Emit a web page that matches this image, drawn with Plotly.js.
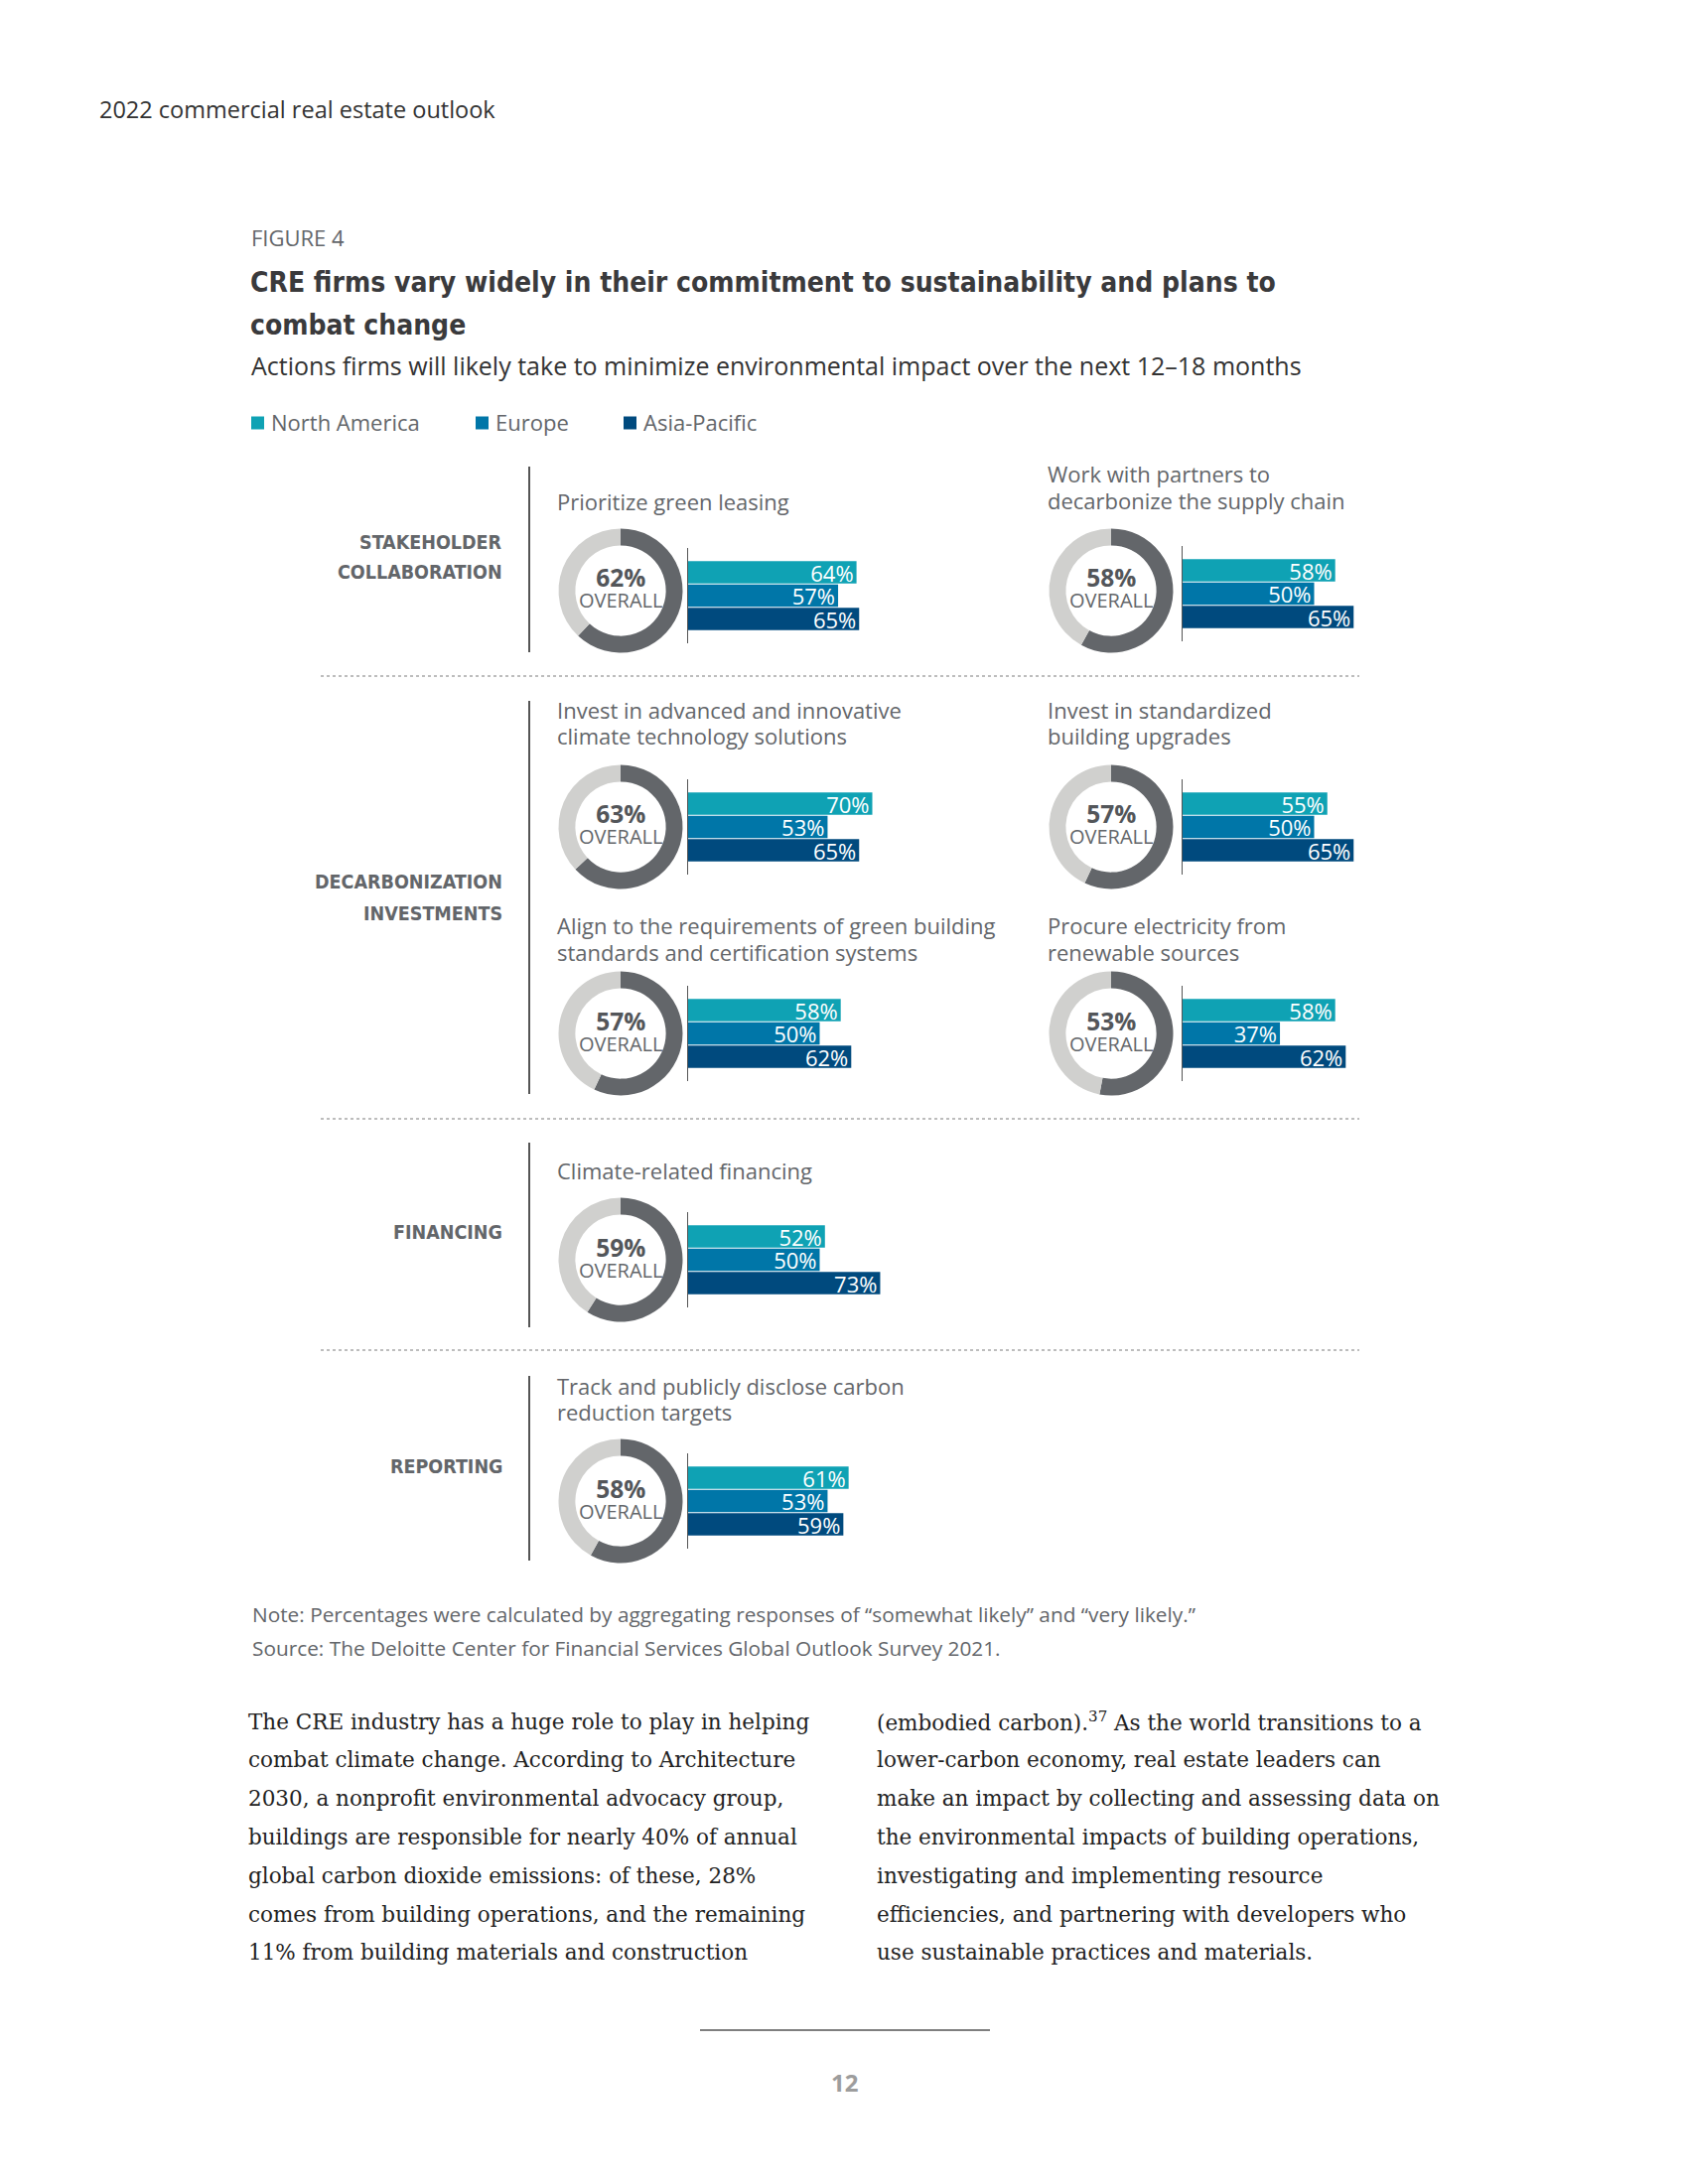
<!DOCTYPE html>
<html>
<head>
<meta charset="utf-8">
<script src="https://cdn.plot.ly/plotly-3.0.1.min.js"></script>
<style>html,body{margin:0;padding:0;background:#fff}</style>
</head>
<body>
<div id="chart" style="width:1700px;height:2200px"></div>
<script>
// ---------------- DATA ----------------
const regions = ['North America', 'Europe', 'Asia-Pacific'];
const actions = [
  'Prioritize green leasing',
  'Work with partners to<br>decarbonize the supply chain',
  'Invest in advanced and innovative<br>climate technology solutions',
  'Invest in standardized<br>building upgrades',
  'Align to the requirements of green building<br>standards and certification systems',
  'Procure electricity from<br>renewable sources',
  'Climate-related financing',
  'Track and publicly disclose carbon<br>reduction targets'
];
const overall      = [62, 58, 63, 57, 57, 53, 59, 58];
const northAmerica = [64, 58, 70, 55, 58, 58, 52, 61];
const europe       = [57, 50, 53, 50, 50, 37, 50, 53];
const asiaPacific  = [65, 65, 65, 65, 62, 62, 73, 59];
const sections = ['STAKEHOLDER<br>COLLABORATION', 'DECARBONIZATION<br>INVESTMENTS', 'FINANCING', 'REPORTING'];

const headerText = '2022 commercial real estate outlook';
const figureLabel = 'FIGURE 4';
const titleLines = ['CRE firms vary widely in their commitment to sustainability and plans to', 'combat change'];
const subtitle = 'Actions firms will likely take to minimize environmental impact over the next 12–18 months';
const noteText = 'Note: Percentages were calculated by aggregating responses of “somewhat likely” and “very likely.”';
const sourceText = 'Source: The Deloitte Center for Financial Services Global Outlook Survey 2021.';
const bodyLeft = [
  'The CRE industry has a huge role to play in helping',
  'combat climate change. According to Architecture',
  '2030, a nonprofit environmental advocacy group,',
  'buildings are responsible for nearly 40% of annual',
  'global carbon dioxide emissions: of these, 28%',
  'comes from building operations, and the remaining',
  '11% from building materials and construction'
];
const bodyRight = [
  '(embodied carbon).<sup>37</sup> As the world transitions to a',
  'lower-carbon economy, real estate leaders can',
  'make an impact by collecting and assessing data on',
  'the environmental impacts of building operations,',
  'investigating and implementing resource',
  'efficiencies, and partnering with developers who',
  'use sustainable practices and materials.'
];
const pageNumber = '12';

// ---------------- LAYOUT / STYLE ----------------
const W = 1700, H = 2200;
const px = x => x / W;
const py = y => 1 - y / H;
const C = { na: '#0fa2b4', eu: '#0076a8', ap: '#004a7e', dark: '#63666a', light: '#d0d0ce', text: '#63666a', ink: '#333333' };
const OS = 'Open Sans';
const NARROW = 'Liberation Sans Narrow, DejaVu Sans Condensed, Open Sans';

// panel placement: donut centre, column, bar offset, title line positions
const panels = [
  { cx: 625,  cy: 595,  col: 'L', boff: 5, ty: [505] },
  { cx: 1119, cy: 595,  col: 'R', boff: 3, ty: [477, 504] },
  { cx: 625,  cy: 833,  col: 'L', boff: 0, ty: [715, 741] },
  { cx: 1119, cy: 833,  col: 'R', boff: 0, ty: [715, 741] },
  { cx: 625,  cy: 1041, col: 'L', boff: 0, ty: [932, 959] },
  { cx: 1119, cy: 1041, col: 'R', boff: 0, ty: [932, 959] },
  { cx: 625,  cy: 1269, col: 'L', boff: 0, ty: [1179] },
  { cx: 625,  cy: 1512, col: 'L', boff: 0, ty: [1396, 1422] }
];
const R = 62.5;          // donut outer radius (px)
const BAR_LEN = 265;     // px for 100%
const CAT = 23.5;        // px per bar row
const PAD = 13;          // axis line overhang

const traces = [];
const layout = {
  width: W, height: H,
  margin: { l: 0, r: 0, t: 0, b: 0 },
  paper_bgcolor: '#ffffff', plot_bgcolor: 'rgba(0,0,0,0)',
  showlegend: false,
  bargap: 0.04,
  uniformtext: { mode: 'show', minsize: 22 },
  annotations: [], shapes: [],
  font: { family: OS, color: C.text }
};

function ann(text, x, y, opts) {
  layout.annotations.push(Object.assign({
    text: text, x: px(x), y: py(y), xref: 'paper', yref: 'paper',
    showarrow: false, xanchor: 'left', yanchor: 'middle', borderpad: 0,
    font: { family: OS, size: 20, color: C.text }
  }, opts || {}));
}

panels.forEach((p, i) => {
  const n = i + 1;
  const xk = n === 1 ? 'x' : 'x' + n;
  const yk = n === 1 ? 'y' : 'y' + n;
  const x0 = p.cx + (p.col === 'L' ? 68 : 72);
  const bc = p.cy + p.boff;
  const half = 1.5 * CAT + PAD;
  const padCat = PAD / CAT;

  // donut
  traces.push({
    type: 'pie', values: [overall[i], 100 - overall[i]], labels: ['Overall', 'Rest'],
    hole: 0.73, sort: false, direction: 'clockwise', rotation: 0,
    marker: { colors: [C.dark, C.light], line: { width: 0 } },
    textinfo: 'none', hoverinfo: 'skip', showlegend: false,
    domain: { x: [px(p.cx - R), px(p.cx + R)], y: [py(p.cy + R), py(p.cy - R)] }
  });

  // bars
  traces.push({
    type: 'bar', orientation: 'h', xaxis: xk, yaxis: yk,
    y: regions, x: [northAmerica[i], europe[i], asiaPacific[i]],
    marker: { color: [C.na, C.eu, C.ap], line: { width: 0 } },
    texttemplate: '%{x}%', textposition: 'inside', insidetextanchor: 'end',
    constraintext: 'none', cliponaxis: false,
    textfont: { family: OS, size: 22, color: '#ffffff' },
    hoverinfo: 'skip'
  });

  layout[n === 1 ? 'xaxis' : 'xaxis' + n] = {
    domain: [px(x0), px(x0 + BAR_LEN)], range: [0, 100], anchor: yk,
    visible: false, fixedrange: true
  };
  layout[n === 1 ? 'yaxis' : 'yaxis' + n] = {
    domain: [py(bc + half), py(bc - half)], anchor: xk, type: 'category',
    categoryarray: regions,
    range: [2.5 + padCat, -0.5 - padCat],
    showline: true, linecolor: '#555555', linewidth: 1.5,
    showticklabels: false, ticks: '', showgrid: false, zeroline: false, fixedrange: true
  };

  // donut centre label (value + OVERALL in one text block)
  ann('<span style="font-size:24.5px;font-weight:bold;fill:#53565a">' + overall[i] + '%</span><br>' +
      '<span style="font-size:20px">OVERALL</span>',
      p.cx, p.cy - 3, { xanchor: 'center', align: 'center', font: { family: OS, size: 16.5, color: C.text } });

  // panel title
  const lines = actions[i].split('<br>');
  lines.forEach((ln, k) => {
    ann(ln, p.cx - R - 3, p.ty[k], { font: { family: OS, size: 22, color: C.text } });
  });
});

// header, figure title
ann(headerText, 99, 110, { font: { family: OS, size: 23.5, color: C.ink } });
ann(figureLabel, 252, 239, { font: { family: OS, size: 22, color: C.text } });
ann('<b>' + titleLines[0] + '</b>', 251, 285, { font: { family: NARROW, size: 28, color: '#3a3a3c' } });
ann('<b>' + titleLines[1] + '</b>', 251, 327, { font: { family: NARROW, size: 28, color: '#3a3a3c' } });
ann(subtitle, 252, 368, { font: { family: OS, size: 25, color: C.ink } });

// legend (manual key)
const legX = [253, 479, 628];
const legColors = [C.na, C.eu, C.ap];
regions.forEach((r, k) => {
  layout.shapes.push({ type: 'rect', xref: 'paper', yref: 'paper',
    x0: px(legX[k]), x1: px(legX[k] + 13), y0: py(432.5), y1: py(419.5),
    fillcolor: legColors[k], line: { width: 0 } });
  ann(r, legX[k] + 19, 425, { font: { family: OS, size: 22, color: C.text } });
});

// section labels and separators
const secLines = [[470, 657], [706, 1102], [1151, 1337], [1386, 1572]];
const secLabelY = [[546, 576], [889, 920], [1241], [1477]];
sections.forEach((s, k) => {
  layout.shapes.push({ type: 'line', xref: 'paper', yref: 'paper',
    x0: px(533), x1: px(533), y0: py(secLines[k][0]), y1: py(secLines[k][1]),
    line: { color: '#555555', width: 2 } });
  s.split('<br>').forEach((ln, j) => {
    ann('<b>' + ln + '</b>', 507, secLabelY[k][j], { xanchor: 'right', font: { family: NARROW, size: 19.5, color: C.text } });
  });
});
[681, 1127, 1360].forEach(y => {
  layout.shapes.push({ type: 'line', xref: 'paper', yref: 'paper',
    x0: px(323), x1: px(1369), y0: py(y), y1: py(y),
    line: { color: '#a8a8a8', width: 1.5, dash: 'dot' } });
});

// note & source
ann(noteText, 253, 1626, { font: { family: OS, size: 20.8, color: C.text } });
ann(sourceText, 253, 1660, { font: { family: OS, size: 20.8, color: C.text } });

// body copy
bodyLeft.forEach((t, k) => ann(t, 249, 1734 + k * 38.8, { font: { family: 'DejaVu Serif', size: 21.5, color: '#222222' } }));
bodyRight.forEach((t, k) => ann(t, 882, 1734 + k * 38.8, { font: { family: 'DejaVu Serif', size: 21.5, color: '#222222' } }));

// footer
layout.shapes.push({ type: 'line', xref: 'paper', yref: 'paper',
  x0: px(705), x1: px(997), y0: py(2045), y1: py(2045), line: { color: '#555555', width: 1.5 } });
ann('<b>' + pageNumber + '</b>', 850, 2097, { xanchor: 'center', font: { family: OS, size: 24, color: '#9d9d9d' } });

Plotly.newPlot('chart', traces, layout, { staticPlot: true, displayModeBar: false });
</script>
</body>
</html>
